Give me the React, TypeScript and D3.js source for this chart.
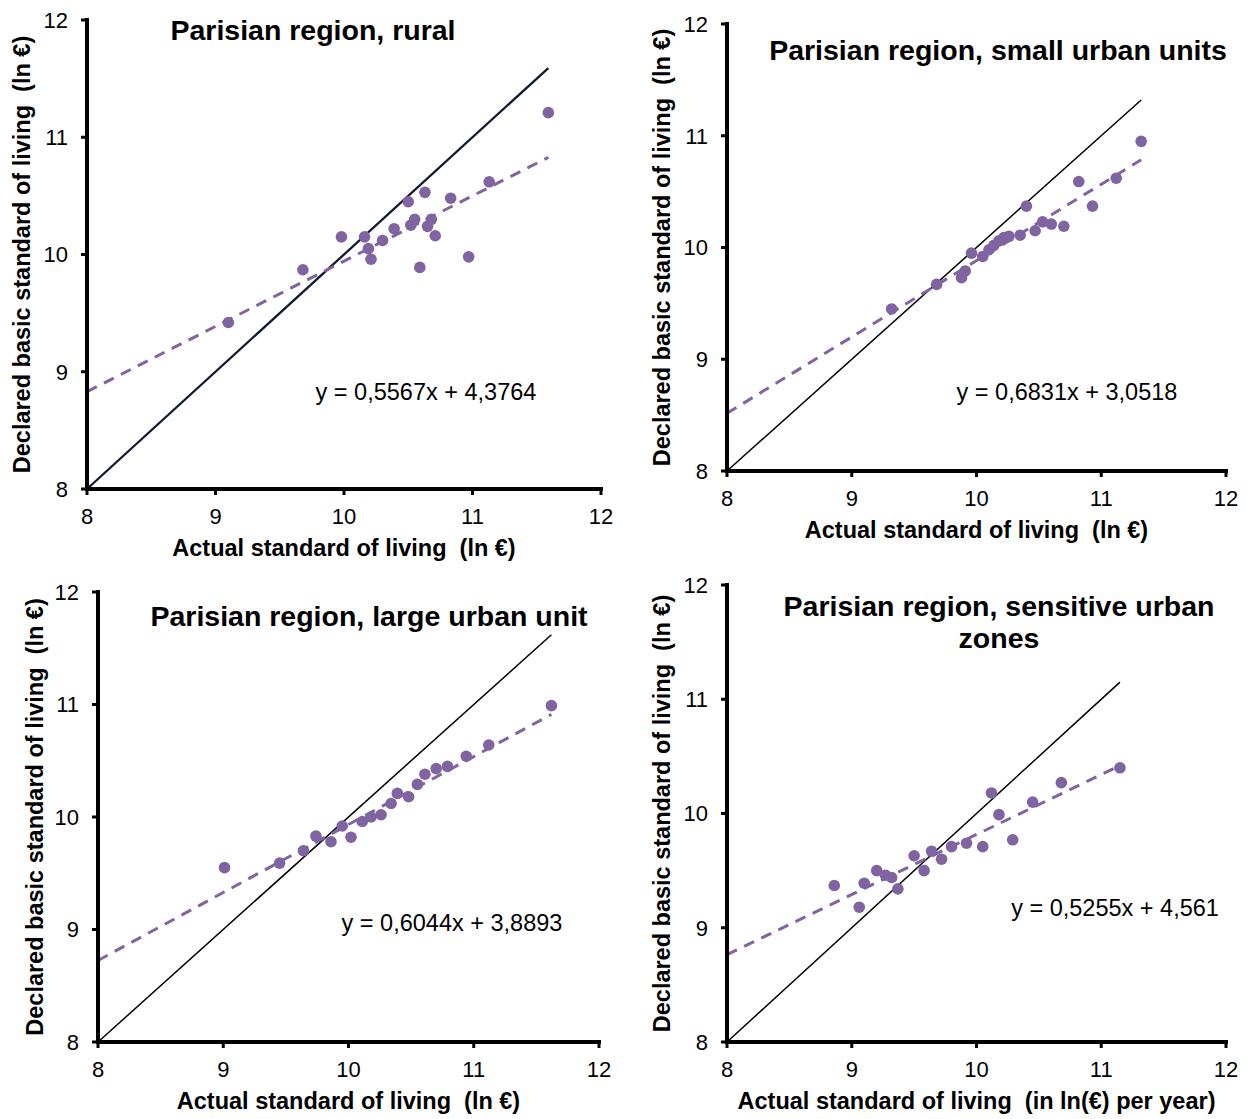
import React from "react";
import * as d3 from "d3";

// Shared axis ticks (ln €)
const tickValues = [8, 9, 10, 11, 12];

// Parisian region, rural
const ruralActual = [9.1, 9.68, 9.98, 10.16, 10.19, 10.21, 10.3, 10.39, 10.5, 10.52, 10.55, 10.59, 10.63, 10.65, 10.68, 10.71, 10.83, 10.97, 11.13, 11.59];
const ruralDeclared = [9.42, 9.87, 10.15, 10.15, 10.05, 9.96, 10.12, 10.22, 10.45, 10.25, 10.3, 9.89, 10.53, 10.24, 10.3, 10.16, 10.48, 9.98, 10.62, 11.21];

// Parisian region, small urban units
const smallActual = [9.32, 9.68, 9.88, 9.91, 9.96, 10.05, 10.1, 10.14, 10.18, 10.22, 10.26, 10.35, 10.4, 10.47, 10.53, 10.6, 10.7, 10.82, 10.93, 11.12, 11.32];
const smallDeclared = [9.45, 9.67, 9.73, 9.79, 9.95, 9.92, 9.98, 10.02, 10.06, 10.09, 10.1, 10.11, 10.37, 10.15, 10.23, 10.21, 10.19, 10.59, 10.37, 10.62, 10.95];

// Parisian region, large urban unit
const largeActual = [9.01, 9.45, 9.64, 9.74, 9.86, 9.95, 10.02, 10.11, 10.18, 10.26, 10.34, 10.39, 10.48, 10.55, 10.61, 10.7, 10.79, 10.94, 11.12, 11.62];
const largeDeclared = [9.55, 9.59, 9.7, 9.83, 9.78, 9.92, 9.82, 9.96, 10.0, 10.02, 10.12, 10.21, 10.18, 10.29, 10.38, 10.43, 10.45, 10.54, 10.64, 10.99];

// Parisian region, sensitive urban zones
const zusActual = [8.86, 9.06, 9.1, 9.2, 9.27, 9.32, 9.37, 9.5, 9.58, 9.64, 9.72, 9.8, 9.92, 10.05, 10.12, 10.18, 10.29, 10.45, 10.68, 11.15];
const zusDeclared = [9.37, 9.18, 9.39, 9.5, 9.46, 9.44, 9.34, 9.63, 9.5, 9.67, 9.6, 9.71, 9.74, 9.71, 10.18, 9.99, 9.77, 10.1, 10.27, 10.4];

// Linear fits (slope, intercept) as printed on each panel
const fitSlopes = [0.5567, 0.6831, 0.6044, 0.5255];
const fitIntercepts = [4.3764, 3.0518, 3.8893, 4.561];
const fitLabels = ["y = 0,5567x + 4,3764", "y = 0,6831x + 3,0518", "y = 0,6044x + 3,8893", "y = 0,5255x + 4,561"];

const panelTitles = [
  ["Parisian region, rural"],
  ["Parisian region, small urban units"],
  ["Parisian region, large urban unit"],
  ["Parisian region, sensitive urban", "zones"],
];
const xTitles = [
  "Actual standard of living  (ln €)",
  "Actual standard of living  (ln €)",
  "Actual standard of living  (ln €)",
  "Actual standard of living  (in ln(€) per year)",
];
const yTitle = "Declared basic standard of living  (ln €)";

const seriesActual = [ruralActual, smallActual, largeActual, zusActual];
const seriesDeclared = [ruralDeclared, smallDeclared, largeDeclared, zusDeclared];

// Frame geometry of each panel in page pixels
const frames = [
  { left: 87, right: 601, top: 20, bottom: 489, titleX: 313, titleY: 30, eqX: 426, eqY: 392, yTitleX: 22, diagW: 2.3, diagColor: "#0f1a2c" },
  { left: 727, right: 1226, top: 24, bottom: 471, titleX: 998, titleY: 50, eqX: 1067, eqY: 392, yTitleX: 662, diagW: 1.5, diagColor: "#000" },
  { left: 98, right: 599, top: 592, bottom: 1042, titleX: 369, titleY: 616, eqX: 452, eqY: 923, yTitleX: 35, diagW: 1.5, diagColor: "#000" },
  { left: 727, right: 1226, top: 585, bottom: 1042, titleX: 999, titleY: 606, eqX: 1115, eqY: 908, yTitleX: 662, diagW: 1.5, diagColor: "#000" },
];

const PURPLE = "#8064a2";
const FONT = "'Liberation Sans', Arial, sans-serif";

function Panel({ i }: { i: number }) {
  const f = frames[i];
  const xs = seriesActual[i];
  const ys = seriesDeclared[i];
  const x = d3.scaleLinear().domain([8, 12]).range([f.left, f.right]);
  const y = d3.scaleLinear().domain([8, 12]).range([f.bottom, f.top]);
  const xMax = d3.max(xs) as number;
  const line = d3
    .line<number[]>()
    .x((d) => x(d[0]))
    .y((d) => y(d[1]));
  const diag = line([
    [8, 8],
    [xMax, xMax],
  ]) as string;
  const fit = (v: number) => fitSlopes[i] * v + fitIntercepts[i];
  const trend = line([
    [8, fit(8)],
    [xMax, fit(xMax)],
  ]) as string;
  const midY = (f.top + f.bottom) / 2;
  const midX = (f.left + f.right) / 2;
  const titleLines = panelTitles[i];

  return (
    <g>
      {/* identity line */}
      <path d={diag} fill="none" stroke={f.diagColor} strokeWidth={f.diagW} />
      {/* fitted regression line */}
      <path d={trend} fill="none" stroke={PURPLE} strokeWidth={3} strokeDasharray="11 8" />
      {xs.map((v, k) => (
        <circle key={k} cx={x(v)} cy={y(ys[k])} r={5.8} fill={PURPLE} />
      ))}

      {/* axes */}
      <line x1={f.left} y1={f.top} x2={f.left} y2={f.bottom} stroke="#000" strokeWidth={4} strokeLinecap="square" />
      <line x1={f.left} y1={f.bottom} x2={f.right} y2={f.bottom} stroke="#000" strokeWidth={4} strokeLinecap="square" />
      {tickValues.map((t) => (
        <g key={"yt" + t}>
          <line x1={f.left - 6} x2={f.left} y1={y(t)} y2={y(t)} stroke="#000" strokeWidth={3} />
          <text x={f.left - 19} y={y(t)} dy="0.36em" textAnchor="end" fontSize={22} fontFamily={FONT}>
            {t}
          </text>
        </g>
      ))}
      {tickValues.map((t) => (
        <g key={"xt" + t}>
          <line x1={x(t)} x2={x(t)} y1={f.bottom} y2={f.bottom + 6} stroke="#000" strokeWidth={3} />
          <text x={x(t)} y={f.bottom + 27} dy="0.36em" textAnchor="middle" fontSize={22} fontFamily={FONT}>
            {t}
          </text>
        </g>
      ))}

      {/* axis titles */}
      <text x={midX} y={f.bottom + 59} dy="0.36em" textAnchor="middle" fontSize={23.5} fontWeight="bold" fontFamily={FONT} style={{ whiteSpace: "pre" }}>
        {xTitles[i]}
      </text>
      <text
        transform={`translate(${f.yTitleX},${midY}) rotate(-90)`}
        dy="0.36em"
        textAnchor="middle"
        fontSize={23.5}
        fontWeight="bold"
        fontFamily={FONT}
        style={{ whiteSpace: "pre" }}
      >
        {yTitle}
      </text>

      {/* panel title */}
      {titleLines.map((s, k) => (
        <text key={k} x={f.titleX} y={f.titleY + k * 32} dy="0.36em" textAnchor="middle" fontSize={28.5} fontWeight="bold" fontFamily={FONT}>
          {s}
        </text>
      ))}

      {/* regression equation */}
      <text x={f.eqX} y={f.eqY} dy="0.36em" textAnchor="middle" fontSize={23.5} fontFamily={FONT}>
        {fitLabels[i]}
      </text>
    </g>
  );
}

export default function App() {
  return (
    <div style={{ position: "absolute", left: 0, top: 0 }}>
      <svg width={1250} height={1119} style={{ display: "block", background: "#fff" }}>
        {frames.map((_, i) => (
          <Panel key={i} i={i} />
        ))}
      </svg>
    </div>
  );
}
